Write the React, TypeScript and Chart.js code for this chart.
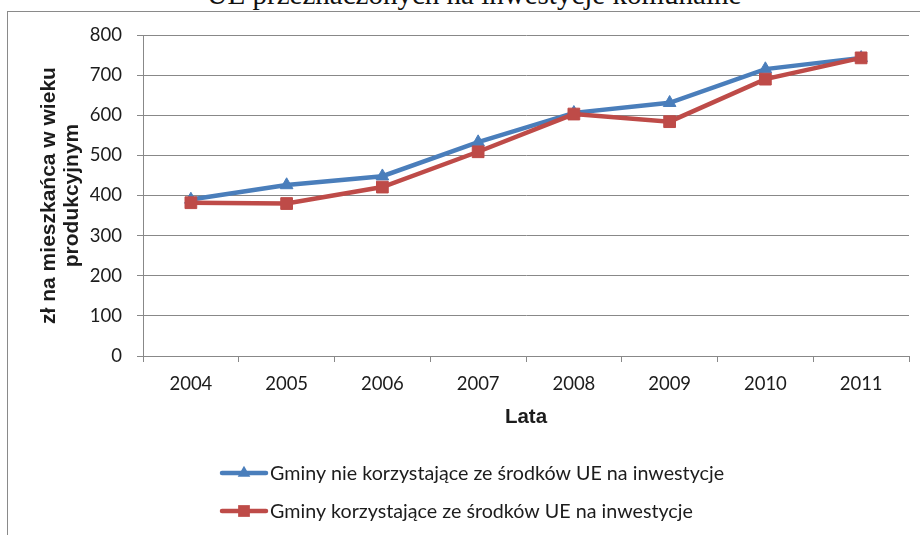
import React, { useEffect, useRef } from "react";
import { Chart, registerables } from "chart.js";

Chart.register(...registerables);

const years = ["2004", "2005", "2006", "2007", "2008", "2009", "2010", "2011"];
const seriesNames = [
  "Gminy nie korzystające ze środków UE na inwestycje",
  "Gminy korzystające ze środków UE na inwestycje",
];
const notUsingEU = [390, 426, 448, 533, 606, 631, 715, 743];
const usingEU = [382, 380, 421, 509, 603, 584, 690, 743];
const yTicks = [0, 100, 200, 300, 400, 500, 600, 700, 800];
const chartTitle = "UE przeznaczonych na inwestycje komunalne";
const xTitle = "Lata";
const yTitle = ["zł na mieszkańca w wieku", "produkcyjnym"];

const BLUE = "#4A7EBB";
const RED = "#BE4B48";
const GRID = "#888888";
const TEXT = "#1c1c1c";

const legendPlugin = {
  id: "stackedLegend",
  afterDraw(chart: any) {
    const ctx = chart.ctx;
    const x0 = 222;
    const x1 = 266;
    const rowYs = [473, 511];
    ctx.save();
    chart.data.datasets.forEach((ds: any, i: number) => {
      const y = rowYs[i];
      ctx.strokeStyle = ds.borderColor;
      ctx.lineWidth = ds.borderWidth;
      ctx.lineCap = "round";
      ctx.beginPath();
      ctx.moveTo(x0, y);
      ctx.lineTo(x1, y);
      ctx.stroke();
      const cx = (x0 + x1) / 2;
      ctx.fillStyle = ds.pointBackgroundColor;
      ctx.beginPath();
      if (ds.pointStyle === "triangle") {
        const r = ds.pointRadius;
        ctx.moveTo(cx, y - r);
        ctx.lineTo(cx + r * 0.866, y + r * 0.5);
        ctx.lineTo(cx - r * 0.866, y + r * 0.5);
        ctx.closePath();
      } else {
        const s = ds.pointRadius * Math.SQRT1_2;
        ctx.rect(cx - s, y - s, 2 * s, 2 * s);
      }
      ctx.fill();
      ctx.fillStyle = TEXT;
      ctx.font = "19.7px Lato";
      ctx.textBaseline = "middle";
      ctx.textAlign = "left";
      ctx.fillText(ds.label, 270, y + 1);
    });
    ctx.restore();
  },
};

export default function App() {
  const canvasRef = useRef<HTMLCanvasElement | null>(null);

  useEffect(() => {
    if (!canvasRef.current) return;
    const chart = new Chart(canvasRef.current, {
      type: "line",
      data: {
        labels: years,
        datasets: [
          {
            label: seriesNames[0],
            data: notUsingEU,
            borderColor: BLUE,
            backgroundColor: BLUE,
            pointBackgroundColor: BLUE,
            pointBorderColor: BLUE,
            borderWidth: 4.5,
            pointStyle: "triangle",
            pointRadius: 7.3,
            pointBorderWidth: 1,
            tension: 0,
            order: 1,
          },
          {
            label: seriesNames[1],
            data: usingEU,
            borderColor: RED,
            backgroundColor: RED,
            pointBackgroundColor: RED,
            pointBorderColor: RED,
            borderWidth: 4.5,
            pointStyle: "rect",
            pointRadius: 8.3,
            pointBorderWidth: 1,
            tension: 0,
            order: 0,
          },
        ],
      },
      options: {
        responsive: false,
        animation: false,
        layout: { padding: { left: 0, top: 35, right: 11, bottom: 89 } },
        plugins: {
          legend: { display: false },
          tooltip: { enabled: false },
          title: { display: false },
        },
        scales: {
          x: {
            type: "category",
            offset: true,
            afterFit: (scale: any) => {
              scale.height = 90;
            },
            grid: {
              offset: true,
              drawOnChartArea: false,
              drawTicks: true,
              tickLength: 6,
              color: GRID,
              lineWidth: 1,
            },
            border: { display: true, color: GRID, width: 1 },
            ticks: {
              color: TEXT,
              padding: 11,
              font: { family: "Lato", size: 18.5 },
              maxRotation: 0,
            },
            title: {
              display: true,
              text: xTitle,
              color: TEXT,
              font: { family: "Liberation Sans", size: 20.5, weight: "bold" },
              padding: { top: 0, bottom: 16 },
            },
          },
          y: {
            min: 0,
            max: 800,
            afterFit: (scale: any) => {
              scale.width = 143;
            },
            afterBuildTicks: (scale: any) => {
              scale.ticks = yTicks.map((v) => ({ value: v }));
            },
            grid: {
              color: GRID,
              lineWidth: 1,
              drawTicks: true,
              tickLength: 6,
            },
            border: { display: true, color: GRID, width: 1 },
            ticks: {
              color: TEXT,
              padding: 15,
              font: { family: "Lato", size: 18.5 },
            },
            title: {
              display: true,
              text: yTitle,
              color: TEXT,
              font: { family: "Liberation Sans", size: 21, weight: "bold", lineHeight: 1.1 },
              padding: { top: 38, bottom: 0 },
            },
          },
        },
      },
      plugins: [legendPlugin],
    });
    let alive = true;
    if ((document as any).fonts && (document as any).fonts.ready) {
      (document as any).fonts.ready.then(() => {
        if (alive) chart.update();
      });
    }
    return () => {
      alive = false;
      chart.destroy();
    };
  }, []);

  return (
    <div
      style={{
        position: "fixed",
        left: 0,
        top: 0,
        width: 920,
        height: 535,
        overflow: "hidden",
        background: "#ffffff",
      }}
    >
      <div
        style={{
          position: "absolute",
          left: 14,
          top: -20,
          width: 920,
          textAlign: "center",
          fontFamily: "'Liberation Serif', 'Times New Roman', serif",
          fontSize: 29,
          lineHeight: "29px",
          color: "#111111",
          whiteSpace: "nowrap",
        }}
      >
        {chartTitle}
      </div>
      <div
        style={{
          position: "absolute",
          left: 7,
          top: 11,
          width: 1000,
          height: 1000,
          border: "1px solid #8a8a8a",
          boxSizing: "border-box",
        }}
      />
      <canvas
        ref={canvasRef}
        width={920}
        height={535}
        style={{ position: "absolute", left: 0, top: 0, width: 920, height: 535 }}
      />
    </div>
  );
}
